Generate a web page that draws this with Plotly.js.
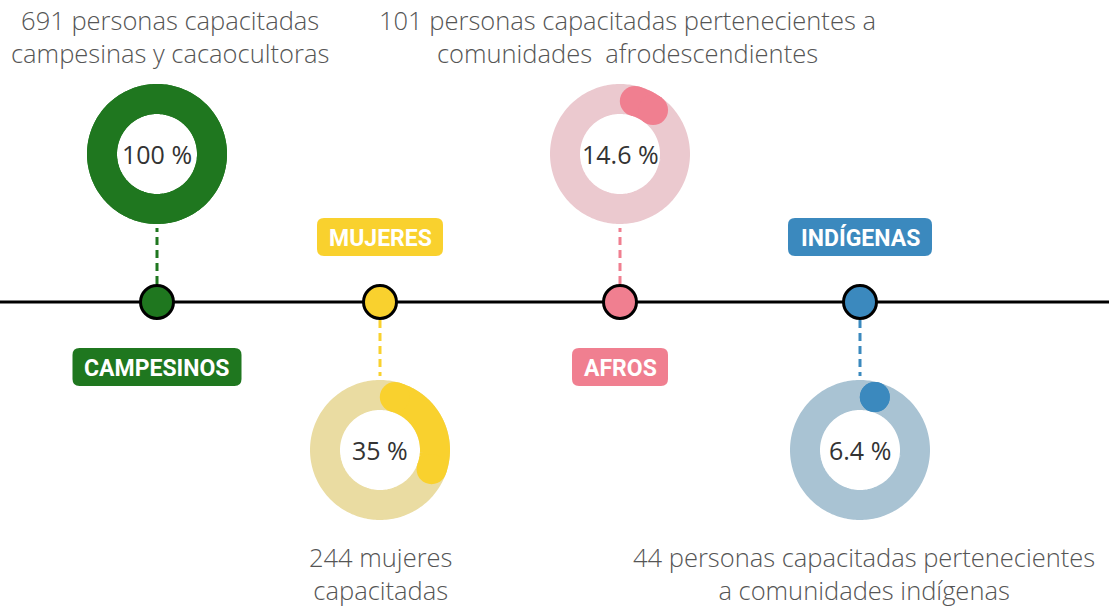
<!DOCTYPE html>
<html>
<head>
<meta charset="utf-8">
<script src="https://cdn.plot.ly/plotly-3.0.1.min.js"></script>
<style>
html,body{margin:0;padding:0;background:#fff;}
#chart{width:1109px;height:609px;}
</style>
</head>
<body>
<div id="chart"></div>
<script>
// ---- data ----
var categories = ['CAMPESINOS', 'MUJERES', 'AFROS', 'INDÍGENAS'];
var percentages = [100, 35, 14.6, 6.4];
var counts = [691, 244, 101, 44];
var descriptions = [
  ' personas capacitadas<br>campesinas y cacaocultoras',
  ' mujeres<br>capacitadas',
  ' personas capacitadas pertenecientes a<br>comunidades  afrodescendientes',
  ' personas capacitadas pertenecientes<br>a comunidades indígenas'
];
var mainColors = ['#1f771f', '#f9d12e', '#f07f90', '#3b89be'];
var lightColors = ['#1f771f', '#eadca2', '#ebc9cf', '#a9c3d3'];

// ---- layout / positions (pixel space) ----
var W = 1109, H = 609;
var lineY = 302;
var nodeX = [157, 380, 620, 860];
var side = [-1, 1, -1, 1];          // -1: donut above, 1: donut below
var donutDy = 148;                 // distance from timeline to donut center
var rOuter = 70, rInner = 40;
var rMid = (rOuter + rInner) / 2, thick = rOuter - rInner;
var labelW = [169, 126, 96, 144], labelH = 38, labelDy = 65, labelR = 7;
var descX = [170, 380, 627, 864];

var traces = [];
var shapes = [];
var annotations = [];

// timeline
traces.push({x: [0, W], y: [lineY, lineY], mode: 'lines', line: {color: '#000', width: 3},
  hoverinfo: 'skip', showlegend: false});

function arcPts(cx, cy, r, a0, a1, n) {
  var xs = [], ys = [];
  for (var i = 0; i <= n; i++) {
    var a = (a0 + (a1 - a0) * i / n) * Math.PI / 180;
    xs.push(cx + r * Math.sin(a));
    ys.push(cy - r * Math.cos(a));
  }
  return {x: xs, y: ys};
}

categories.forEach(function (cat, i) {
  var cx = nodeX[i];
  var cy = lineY + side[i] * donutDy;
  var pct = percentages[i];

  // dashed connector
  var y0 = lineY + side[i] * 18, y1 = cy - side[i] * (rOuter + 4);
  traces.push({x: [cx, cx], y: [y0, y1], mode: 'lines',
    line: {color: mainColors[i], width: 3, dash: '8px,5px'}, hoverinfo: 'skip', showlegend: false});

  // ring background
  var bg = arcPts(cx, cy, rMid, 0, 362, 240);
  traces.push({x: bg.x, y: bg.y, mode: 'lines', line: {color: lightColors[i], width: thick, simplify: false},
    hoverinfo: 'skip', showlegend: false});

  // progress arc with rounded caps inside the arc
  if (pct < 100) {
    var A = 360 * pct / 100;
    var cap = (thick / 2) / rMid * 180 / Math.PI;
    var s = cap, e = Math.max(A - cap, cap);
    var arc = arcPts(cx, cy, rMid, s, e, 80);
    traces.push({x: arc.x, y: arc.y, mode: 'lines', line: {color: mainColors[i], width: thick, simplify: false},
      hoverinfo: 'skip', showlegend: false});
    traces.push({x: [arc.x[0], arc.x[arc.x.length - 1]], y: [arc.y[0], arc.y[arc.y.length - 1]],
      mode: 'markers', marker: {color: mainColors[i], size: thick, line: {width: 0}},
      hoverinfo: 'skip', showlegend: false});
  } else {
    var full = arcPts(cx, cy, rMid, 0, 362, 240);
    traces.push({x: full.x, y: full.y, mode: 'lines', line: {color: mainColors[i], width: thick, simplify: false},
      hoverinfo: 'skip', showlegend: false});
  }

  // percentage text
  annotations.push({x: cx, y: cy, xref: 'x', yref: 'y', showarrow: false,
    text: pct + ' %', font: {family: 'Open Sans', size: 25, color: '#333'}});

  // node
  traces.push({x: [cx], y: [lineY], mode: 'markers',
    marker: {color: mainColors[i], size: 33, line: {color: '#000', width: 3}},
    hoverinfo: 'skip', showlegend: false});

  // label box (rounded) + text
  var ly = lineY - side[i] * labelDy;
  var x0 = cx - labelW[i] / 2, x1 = cx + labelW[i] / 2, yt = ly - labelH / 2, yb = ly + labelH / 2, r = labelR;
  shapes.push({type: 'path', xref: 'x', yref: 'y', fillcolor: mainColors[i], line: {width: 0},
    path: 'M' + (x0 + r) + ',' + yt + ' L' + (x1 - r) + ',' + yt +
      ' Q' + x1 + ',' + yt + ' ' + x1 + ',' + (yt + r) +
      ' L' + x1 + ',' + (yb - r) + ' Q' + x1 + ',' + yb + ' ' + (x1 - r) + ',' + yb +
      ' L' + (x0 + r) + ',' + yb + ' Q' + x0 + ',' + yb + ' ' + x0 + ',' + (yb - r) +
      ' L' + x0 + ',' + (yt + r) + ' Q' + x0 + ',' + yt + ' ' + (x0 + r) + ',' + yt + ' Z'});
  annotations.push({x: cx, y: ly + 1, xref: 'x', yref: 'y', showarrow: false, text: cat,
    font: {family: 'Roboto', size: 23, color: '#fff', weight: 'bold'}});

  // description
  var dy = side[i] < 0 ? 36 : 573;
  annotations.push({x: descX[i], y: dy, xref: 'x', yref: 'y', showarrow: false,
    text: counts[i] + descriptions[i], align: 'center',
    font: {family: 'Open Sans', size: 25.5, color: '#555', weight: 300}});
});

var layout = {
  width: W, height: H,
  margin: {l: 0, r: 0, t: 0, b: 0},
  paper_bgcolor: '#fff', plot_bgcolor: '#fff',
  xaxis: {range: [0, W], visible: false, fixedrange: true},
  yaxis: {range: [H, 0], visible: false, fixedrange: true},
  shapes: shapes,
  annotations: annotations,
  showlegend: false
};

Plotly.newPlot('chart', traces, layout, {displayModeBar: false, staticPlot: true});
</script>
</body>
</html>
